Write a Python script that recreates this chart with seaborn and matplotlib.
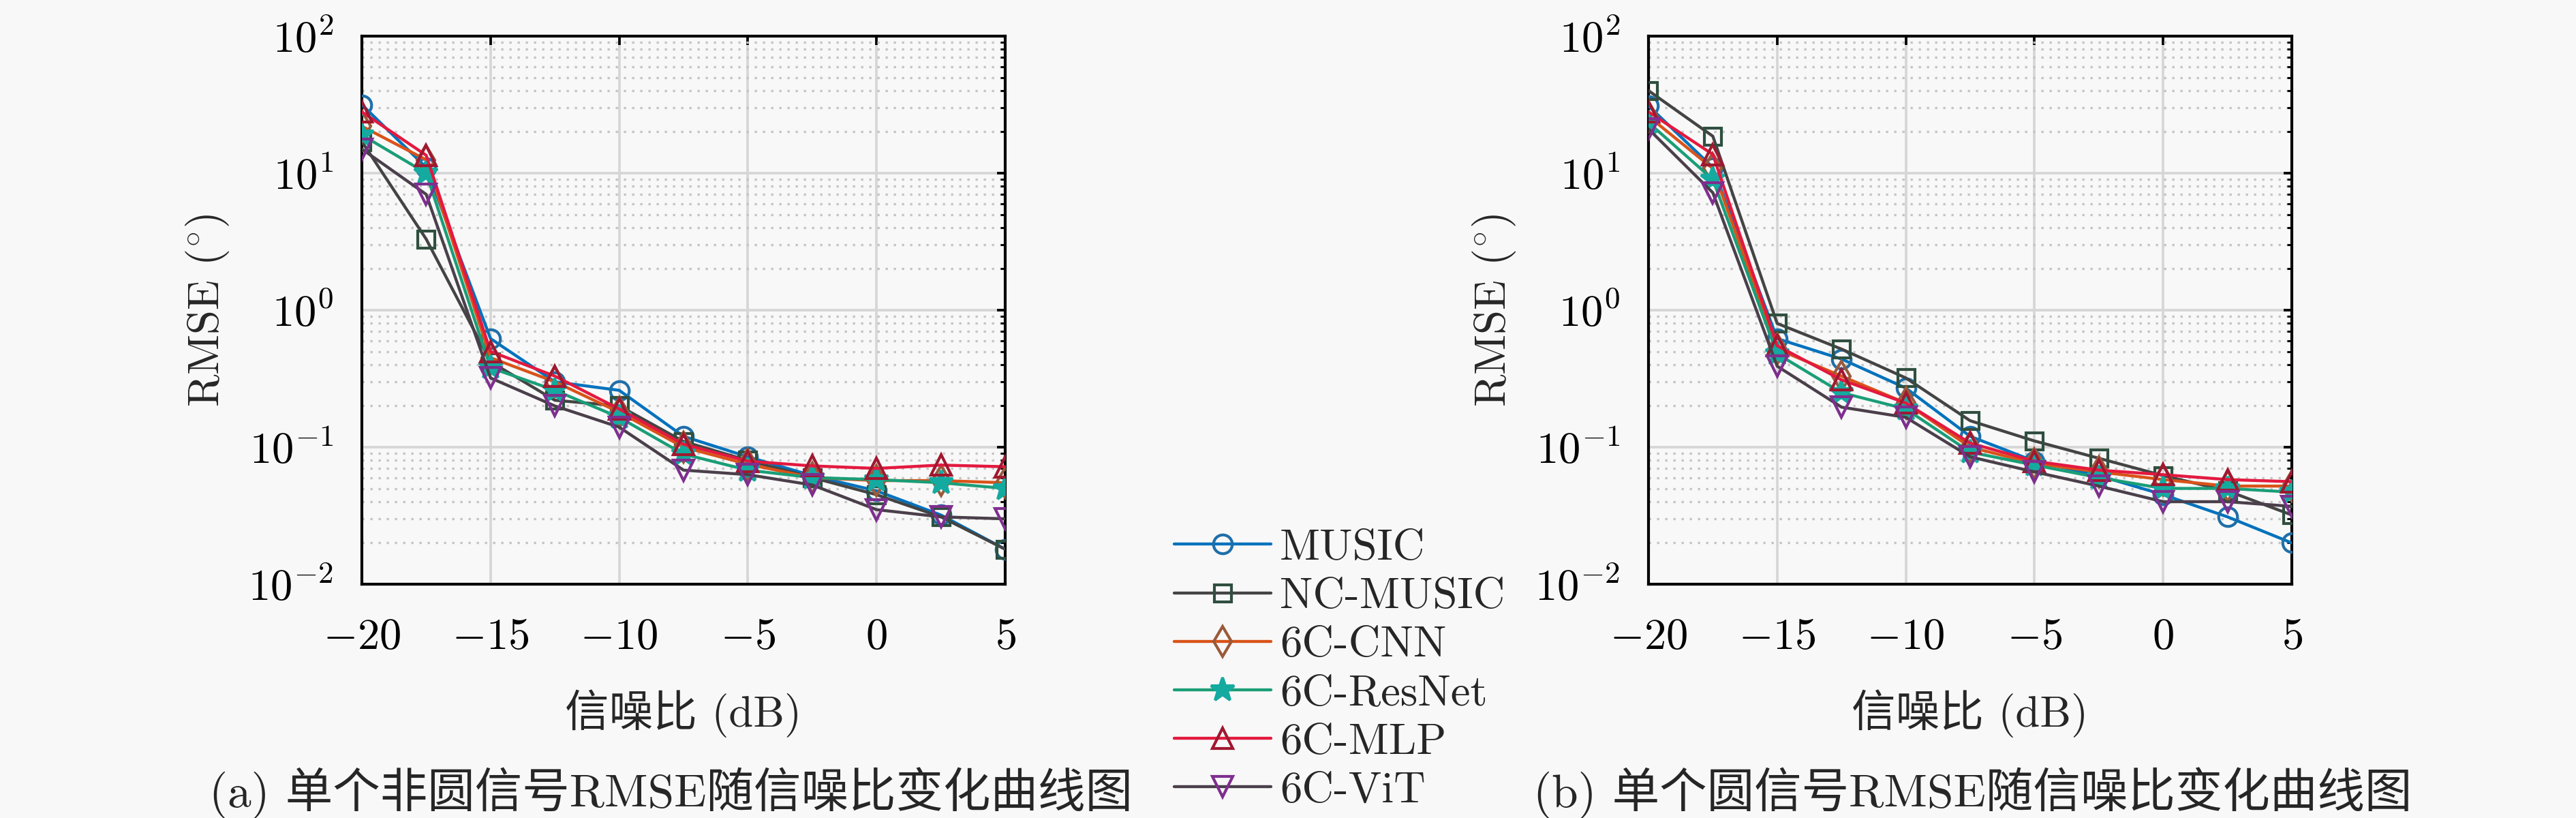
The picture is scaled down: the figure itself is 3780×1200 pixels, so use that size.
import numpy as np
import pandas as pd
import matplotlib
matplotlib.use("Agg")
import matplotlib.pyplot as plt
import matplotlib.ticker as mticker
import seaborn as sns

# ---------------- data ----------------
snr = [-20, -17.5, -15, -12.5, -10, -7.5, -5, -2.5, 0, 2.5, 5]
methods = ["MUSIC", "NC-MUSIC", "6C-CNN", "6C-ResNet", "6C-MLP", "6C-ViT"]

# (a) single non-circular signal
music_a  = [31.6, 11.0, 0.62, 0.30, 0.26, 0.120, 0.085, 0.062, 0.048, 0.032, 0.018]
nc_a     = [17.0, 3.30, 0.42, 0.22, 0.20, 0.110, 0.080, 0.060, 0.045, 0.031, 0.018]
cnn_a    = [22.0, 12.5, 0.45, 0.30, 0.18, 0.100, 0.075, 0.060, 0.057, 0.057, 0.055]
resnet_a = [19.0, 10.0, 0.38, 0.26, 0.165, 0.089, 0.068, 0.060, 0.058, 0.055, 0.050]
mlp_a    = [28.0, 13.5, 0.50, 0.33, 0.19, 0.105, 0.079, 0.073, 0.070, 0.074, 0.072]
vit_a    = [15.0, 7.00, 0.32, 0.20, 0.14, 0.068, 0.063, 0.053, 0.035, 0.031, 0.030]

# (b) single circular signal
music_b  = [31.0, 11.0, 0.62, 0.44, 0.27, 0.120, 0.079, 0.062, 0.045, 0.031, 0.020]
nc_b     = [40.0, 18.6, 0.80, 0.52, 0.32, 0.156, 0.111, 0.083, 0.062, 0.048, 0.032]
cnn_b    = [26.0, 10.8, 0.52, 0.33, 0.21, 0.100, 0.076, 0.066, 0.058, 0.052, 0.052]
resnet_b = [23.4, 9.00, 0.48, 0.25, 0.19, 0.092, 0.074, 0.060, 0.050, 0.050, 0.047]
mlp_b    = [28.0, 13.7, 0.55, 0.31, 0.21, 0.107, 0.079, 0.068, 0.063, 0.058, 0.056]
vit_b    = [21.0, 7.20, 0.39, 0.196, 0.165, 0.085, 0.066, 0.052, 0.040, 0.040, 0.037]

xticks = [-20, -15, -10, -5, 0, 5]
xlabel = "信噪比 (dB)"
ylabel = r"RMSE $(^{\circ})$"
caption_a = "(a) 单个非圆信号RMSE随信噪比变化曲线图"
caption_b = "(b) 单个圆信号RMSE随信噪比变化曲线图"

# ---------------- style ----------------
line_colors = ["#0072BD", "#444444", "#D95319", "#1A9E77", "#E3193F", "#4A3F4A"]
edge_colors = ["#1F6FA8", "#2F4F3F", "#9A5A3A", "#14AAA0", "#A01830", "#7E2F8E"]
face_colors = ["none", "none", "none", "#14AAA0", "none", "none"]
marker_list = ["o", "s", "d", "*", "^", "v"]
marker_sizes = [6.6, 6.0, 7.6, 8.8, 7.2, 7.2]

sns.set_style("white")
plt.rcParams["font.family"] = ["cmr10", "Noto Sans CJK SC"]
plt.rcParams["mathtext.fontset"] = "cm"
plt.rcParams["axes.formatter.use_mathtext"] = True
plt.rcParams["axes.unicode_minus"] = True

FS = 15.5
FS_CAP = 16.7
bg = "#f8f8f8"

fig = plt.figure(figsize=(12.6, 4.0), dpi=300, facecolor=bg)
ax_a = fig.add_axes([531 / 3780, 1 - 857 / 1200, 944 / 3780, 804 / 1200])
ax_b = fig.add_axes([2419 / 3780, 1 - 857 / 1200, 944 / 3780, 804 / 1200])

data_sets = [
    (ax_a, [music_a, nc_a, cnn_a, resnet_a, mlp_a, vit_a]),
    (ax_b, [music_b, nc_b, cnn_b, resnet_b, mlp_b, vit_b]),
]

for ax, series in data_sets:
    ax.set_facecolor(bg)
    for i, (name, vals) in enumerate(zip(methods, series)):
        df = pd.DataFrame({"snr": snr, "rmse": vals})
        sns.lineplot(data=df, x="snr", y="rmse", ax=ax,
                     color=line_colors[i], linewidth=1.05,
                     marker=marker_list[i], markersize=marker_sizes[i],
                     markeredgecolor=edge_colors[i],
                     markerfacecolor=face_colors[i],
                     markeredgewidth=1.0, label=name, zorder=3 + i)
    leg = ax.get_legend()
    if leg is not None:
        leg.remove()
    ax.set_yscale("log")
    ax.set_ylim(1e-2, 1e2)
    ax.set_xlim(-20, 5)
    ax.set_xticks(xticks)
    ax.yaxis.set_major_locator(mticker.LogLocator(base=10, numticks=10))
    ax.yaxis.set_minor_locator(mticker.LogLocator(base=10, subs=np.arange(2, 10), numticks=20))
    ax.yaxis.set_minor_formatter(mticker.NullFormatter())
    ax.set_axisbelow(True)
    ax.grid(which="major", color="#d6d6d6", linewidth=0.9, linestyle="-")
    ax.grid(which="minor", axis="y", color="#c4c4c4", linewidth=0.8, linestyle=(0, (1, 2.6)))
    ax.tick_params(which="both", direction="in", top=True, right=True,
                   labelsize=FS, colors="black")
    ax.tick_params(which="major", length=3.0, width=0.9)
    ax.tick_params(which="minor", length=1.6, width=0.7)
    ax.tick_params(axis="x", which="major", pad=12)
    ax.tick_params(axis="y", which="major", pad=10)
    for s in ax.spines.values():
        s.set_visible(True)
        s.set_color("black")
        s.set_linewidth(1.0)
    ax.set_xlabel(xlabel, fontsize=FS)
    ax.xaxis.label.set_va("center")
    ax.xaxis.set_label_coords(0.5, -0.236)
    ax.set_ylabel(ylabel, fontsize=FS)
    ax.yaxis.label.set_va("center")
    ax.yaxis.set_label_coords(-0.240, 0.5)

handles, labels = ax_a.get_legend_handles_labels()
fig.legend(handles, labels, loc="center", bbox_to_anchor=(0.52, 0.181),
           frameon=False, fontsize=FS, handlelength=2.2, handletextpad=0.2,
           labelspacing=0.2, borderpad=0.0)

fig.text(984 / 3780, 1 - 1163 / 1200, caption_a, ha="center", va="center", fontsize=FS_CAP)
fig.text(2895 / 3780, 1 - 1163 / 1200, caption_b, ha="center", va="center", fontsize=FS_CAP)

fig.savefig("out.png", dpi=300, facecolor=bg)
